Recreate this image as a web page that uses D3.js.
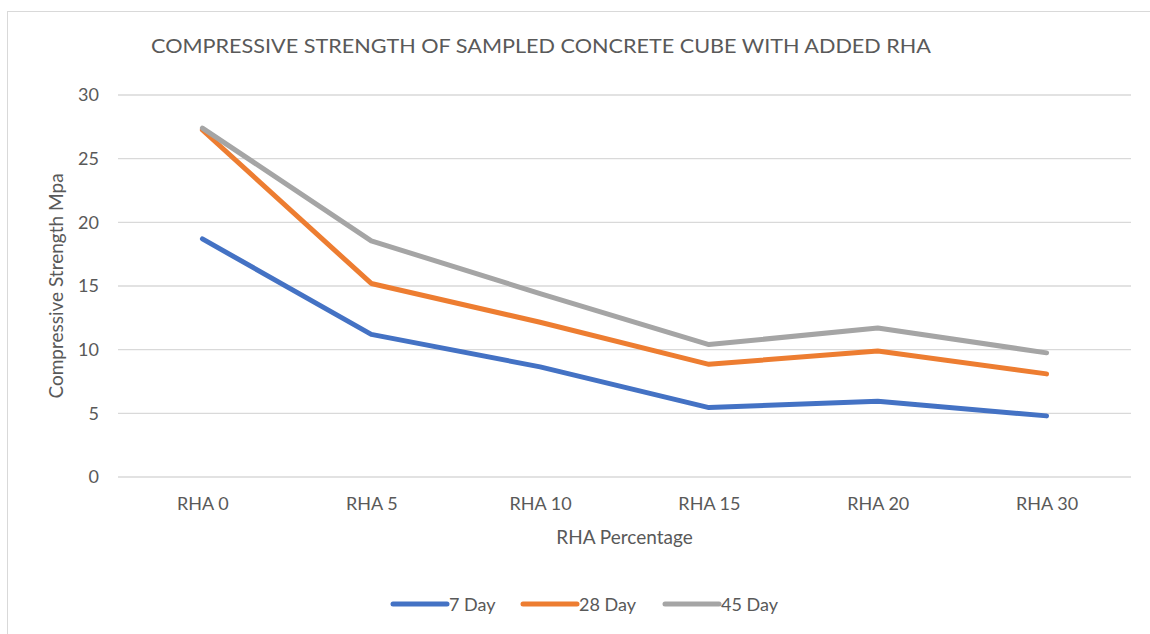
<!DOCTYPE html>
<html>
<head>
<meta charset="utf-8">
<script src="https://cdn.jsdelivr.net/npm/d3@7"></script>
<style>
  body { margin: 0; background: #fff; }
  text { font-family: Lato, "Open Sans", sans-serif; fill: #595959; }
</style>
</head>
<body>
<script>
// chart data
const categories = ["RHA 0", "RHA 5", "RHA 10", "RHA 15", "RHA 20", "RHA 30"];
const day7 = [18.7, 11.2, 8.65, 5.45, 5.95, 4.8];
const day28 = [27.25, 15.2, 12.15, 8.85, 9.9, 8.1];
const day45 = [27.4, 18.55, 14.4, 10.4, 11.7, 9.75];
const seriesNames = ["7 Day", "28 Day", "45 Day"];
const seriesColors = ["#4472C4", "#ED7D31", "#A5A5A5"];
const yTicks = [0, 5, 10, 15, 20, 25, 30];

const series = [day7, day28, day45].map((vals, i) => ({
    name: seriesNames[i],
    color: seriesColors[i],
    values: vals,
}));

const width = 1150, height = 634;
const margin = { top: 95, right: 19, bottom: 157, left: 118 };

const svg = d3.select("body").append("svg")
    .attr("width", width)
    .attr("height", height);

// outer chart frame
svg.append("rect")
    .attr("x", 7.5).attr("y", 11.5)
    .attr("width", width + 20).attr("height", height + 20)
    .attr("fill", "none")
    .attr("stroke", "#d9d9d9");

const x = d3.scalePoint()
    .domain(categories)
    .range([margin.left, width - margin.right])
    .padding(0.5);

const y = d3.scaleLinear()
    .domain([0, 30])
    .range([height - margin.bottom, margin.top]);

// gridlines
svg.append("g")
    .selectAll("line")
    .data(yTicks)
    .join("line")
    .attr("x1", margin.left)
    .attr("x2", width - margin.right)
    .attr("y1", (d) => y(d))
    .attr("y2", (d) => y(d))
    .attr("stroke", "#d9d9d9")
    .attr("stroke-width", 1.3);

// y axis
const yAxis = svg.append("g")
    .attr("transform", `translate(${margin.left},0)`)
    .call(d3.axisLeft(y).tickValues(yTicks).tickSize(0).tickPadding(19));
yAxis.select(".domain").remove();
yAxis.selectAll("text")
    .style("font-size", "18px")
    .style("font-family", "Lato, sans-serif")
    .attr("fill", "#595959");

// x axis
const xAxis = svg.append("g")
    .attr("transform", `translate(0,${y(0)})`)
    .call(d3.axisBottom(x).tickSize(0).tickPadding(20));
xAxis.select(".domain").remove();
xAxis.selectAll("text")
    .style("font-size", "18px")
    .style("font-family", "Lato, sans-serif")
    .attr("fill", "#595959");

// title
svg.append("text")
    .attr("x", 151)
    .attr("y", 53)
    .attr("textLength", 780)
    .attr("lengthAdjust", "spacingAndGlyphs")
    .style("font-size", "20px")
    .style("font-weight", 400)
    .text("COMPRESSIVE STRENGTH OF SAMPLED CONCRETE CUBE WITH ADDED RHA");

// axis titles
svg.append("text")
    .attr("x", (margin.left + width - margin.right) / 2)
    .attr("y", 544)
    .attr("text-anchor", "middle")
    .style("font-size", "19px")
    .text("RHA Percentage");

svg.append("text")
    .attr("transform", `translate(63,${(y(0) + y(30)) / 2}) rotate(-90)`)
    .attr("text-anchor", "middle")
    .style("font-size", "19px")
    .text("Compressive Strength Mpa");

// lines
const line = d3.line()
    .x((d, i) => x(categories[i]))
    .y((d) => y(d));

svg.append("g")
    .selectAll("path")
    .data(series)
    .join("path")
    .attr("d", (d) => line(d.values))
    .attr("fill", "none")
    .attr("stroke", (d) => d.color)
    .attr("stroke-width", 5)
    .attr("stroke-linecap", "round")
    .attr("stroke-linejoin", "round");

// legend
const legendX = [393, 523, 665];
const legend = svg.append("g")
    .selectAll("g")
    .data(series)
    .join("g")
    .attr("transform", (d, i) => `translate(${legendX[i]},604)`);
legend.append("line")
    .attr("x1", 0).attr("x2", 54)
    .attr("stroke", (d) => d.color)
    .attr("stroke-width", 5)
    .attr("stroke-linecap", "round");
legend.append("text")
    .attr("x", 56)
    .attr("y", 7)
    .style("font-size", "18px")
    .text((d) => d.name);
</script>
</body>
</html>
